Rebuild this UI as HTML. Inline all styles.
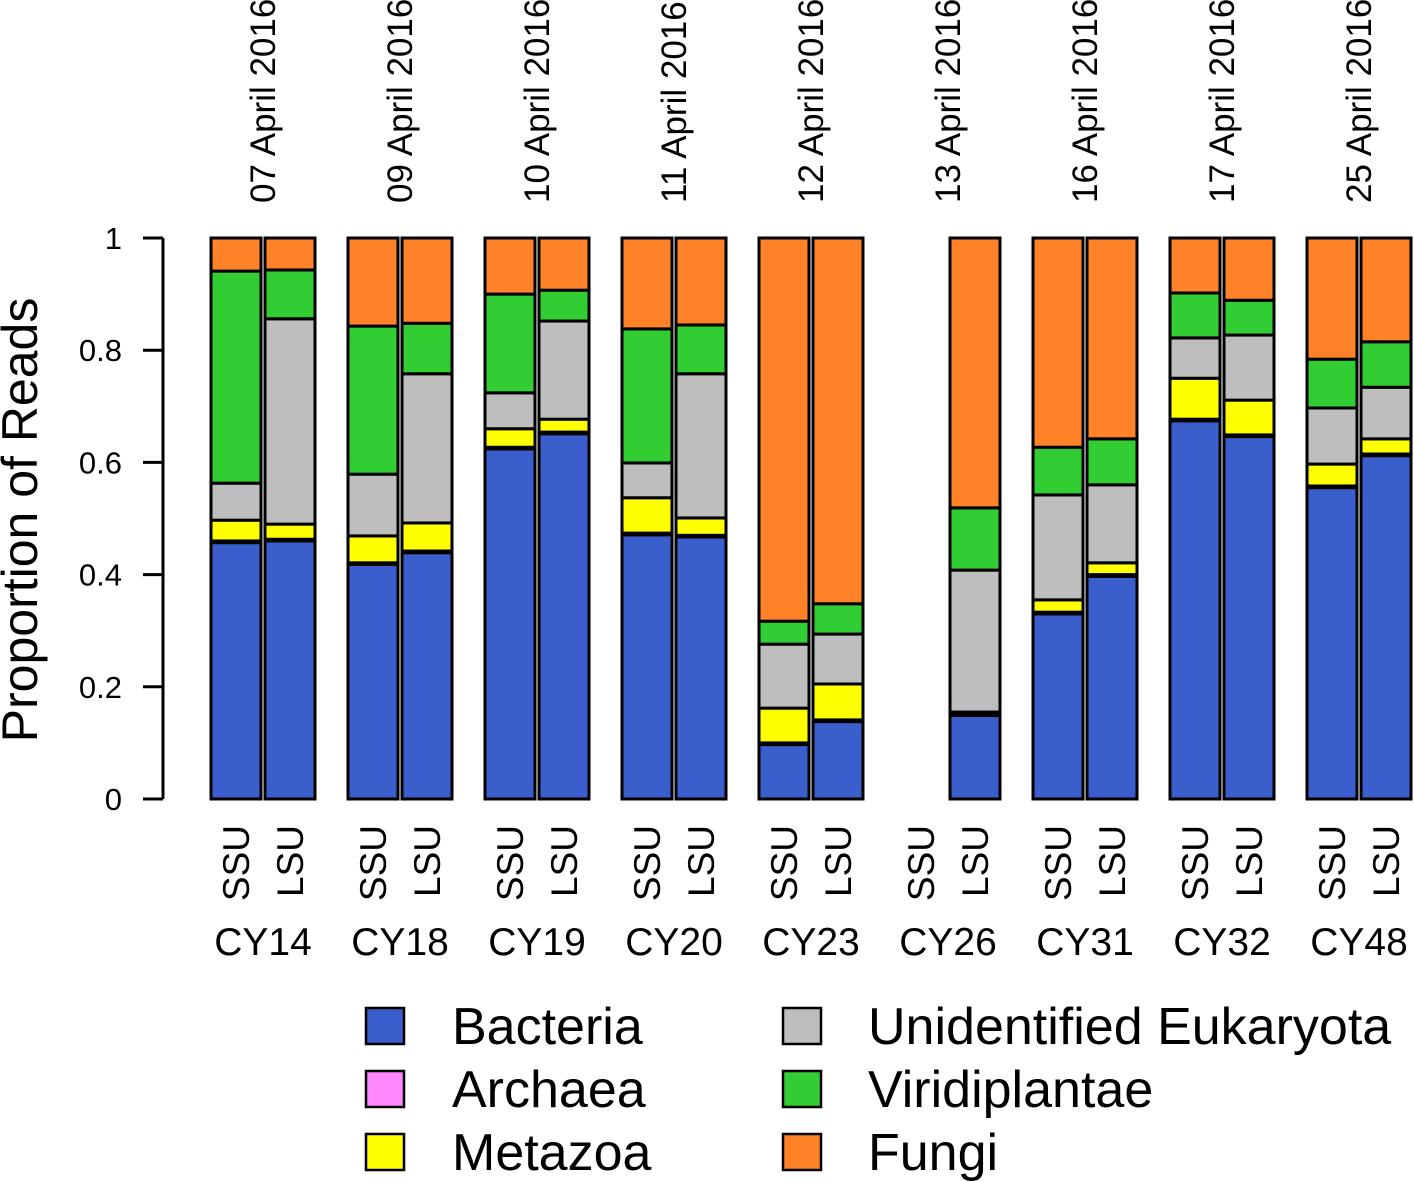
<!DOCTYPE html>
<html><head><meta charset="utf-8"><style>
body{margin:0;background:#fff}
svg{display:block;font-family:"Liberation Sans",Arial,sans-serif}
</style></head><body>
<svg id="chart" width="1414" height="1182" viewBox="0 0 1414 1182"></svg>
<script>
const samples=["CY14","CY18","CY19","CY20","CY23","CY26","CY31","CY32","CY48"];
const dates=["07 April 2016","09 April 2016","10 April 2016","11 April 2016","12 April 2016","13 April 2016","16 April 2016","17 April 2016","25 April 2016"];
const markers=["SSU","LSU"];
const taxa=["Bacteria","Archaea","Metazoa","Unidentified Eukaryota","Viridiplantae","Fungi"];
const colors=["#3a5fcd","#ff88ff","#ffff00","#bebebe","#32cd32","#ff8228"];
// proportions per bar: [bacteria, archaea, metazoa, unidentified, viridiplantae, fungi]; null = no data
const ssu=[
[0.457,0.003,0.037,0.066,0.378,0.059],
[0.418,0.003,0.048,0.110,0.264,0.157],
[0.624,0.003,0.033,0.064,0.176,0.100],
[0.471,0.003,0.063,0.062,0.239,0.162],
[0.097,0.003,0.062,0.114,0.041,0.683],
null,
[0.330,0.003,0.022,0.187,0.085,0.373],
[0.674,0.003,0.073,0.072,0.080,0.098],
[0.555,0.003,0.039,0.100,0.087,0.216]];
const lsu=[
[0.460,0.003,0.027,0.366,0.087,0.057],
[0.439,0.003,0.050,0.266,0.090,0.152],
[0.651,0.003,0.023,0.175,0.055,0.093],
[0.467,0.003,0.031,0.257,0.087,0.155],
[0.138,0.003,0.064,0.089,0.054,0.652],
[0.149,0.003,0.003,0.253,0.111,0.481],
[0.397,0.003,0.021,0.139,0.082,0.358],
[0.646,0.003,0.062,0.116,0.062,0.111],
[0.612,0.003,0.027,0.092,0.081,0.185]];
const yTicks=[0,0.2,0.4,0.6,0.8,1];
const yTickLabels=["0","0.2","0.4","0.6","0.8","1"];

const NS="http://www.w3.org/2000/svg";
const svg=document.getElementById("chart");
function el(t,a,p){const e=document.createElementNS(NS,t);for(const k in a)e.setAttribute(k,a[k]);(p||svg).appendChild(e);return e;}
const y0=799,y1=238;
const yScale=v=>y0-(y0-y1)*v;
const groupX=i=>211+137*i;
const barW=50;
const barX=(i,j)=>groupX(i)+j*54;

// y axis
const ax=el("g",{});


el("line",{x1:163,x2:163,y1:yScale(0),y2:yScale(1),stroke:"#000","stroke-width":3},ax);
yTicks.forEach((t,k)=>{
  el("line",{x1:143,x2:163,y1:yScale(t),y2:yScale(t),stroke:"#000","stroke-width":3},ax);
  const tx=el("text",{x:122,y:yScale(t)+11,"text-anchor":"end","font-size":31},ax);
  tx.textContent=yTickLabels[k];
  
  
});
const yt=el("text",{x:0,y:0,"font-size":50,"text-anchor":"middle",transform:"translate(37,520) rotate(-90)"});
yt.textContent="Proportion of Reads";



// bars
samples.forEach((s,i)=>{
  [ssu[i],lsu[i]].forEach((vals,j)=>{
    const x=barX(i,j);
    if(vals){
      let cum=0;
      vals.forEach((v,k)=>{
        const r=el("rect",{x:x,y:yScale(cum+v),width:barW,height:yScale(cum)-yScale(cum+v),fill:colors[k],stroke:"#000","stroke-width":3});
        
        
        cum+=v;
      });
    }
    const ml=el("text",{x:0,y:0,"font-size":37,"text-anchor":"end",transform:`translate(${x+barW/2+13},825) rotate(-90)`});
    ml.textContent=markers[j];
    
    
  });
  const cx=groupX(i)+52;
  const gl=el("text",{x:cx,y:955,"font-size":39,"text-anchor":"middle"});
  gl.textContent=s;
  
  
  const dl=el("text",{x:0,y:0,"font-size":35,"text-anchor":"start",transform:`translate(${cx+12},203) rotate(-90)`});
  dl.textContent=dates[i];
  
  
});

// legend
const lg=el("g",{});


taxa.forEach((t,k)=>{
  const col=k<3?0:1, row=k%3;
  const bx=col?783:366, ty=1026+row*63;
  const r=el("rect",{x:bx,y:ty-18,width:38,height:36,fill:colors[k],stroke:"#000","stroke-width":2.5},lg);
  
  
  const tx=el("text",{x:col?868:452,y:ty+18,"font-size":52},lg);
  tx.textContent=t;
  
  
});
</script>
</body></html>
